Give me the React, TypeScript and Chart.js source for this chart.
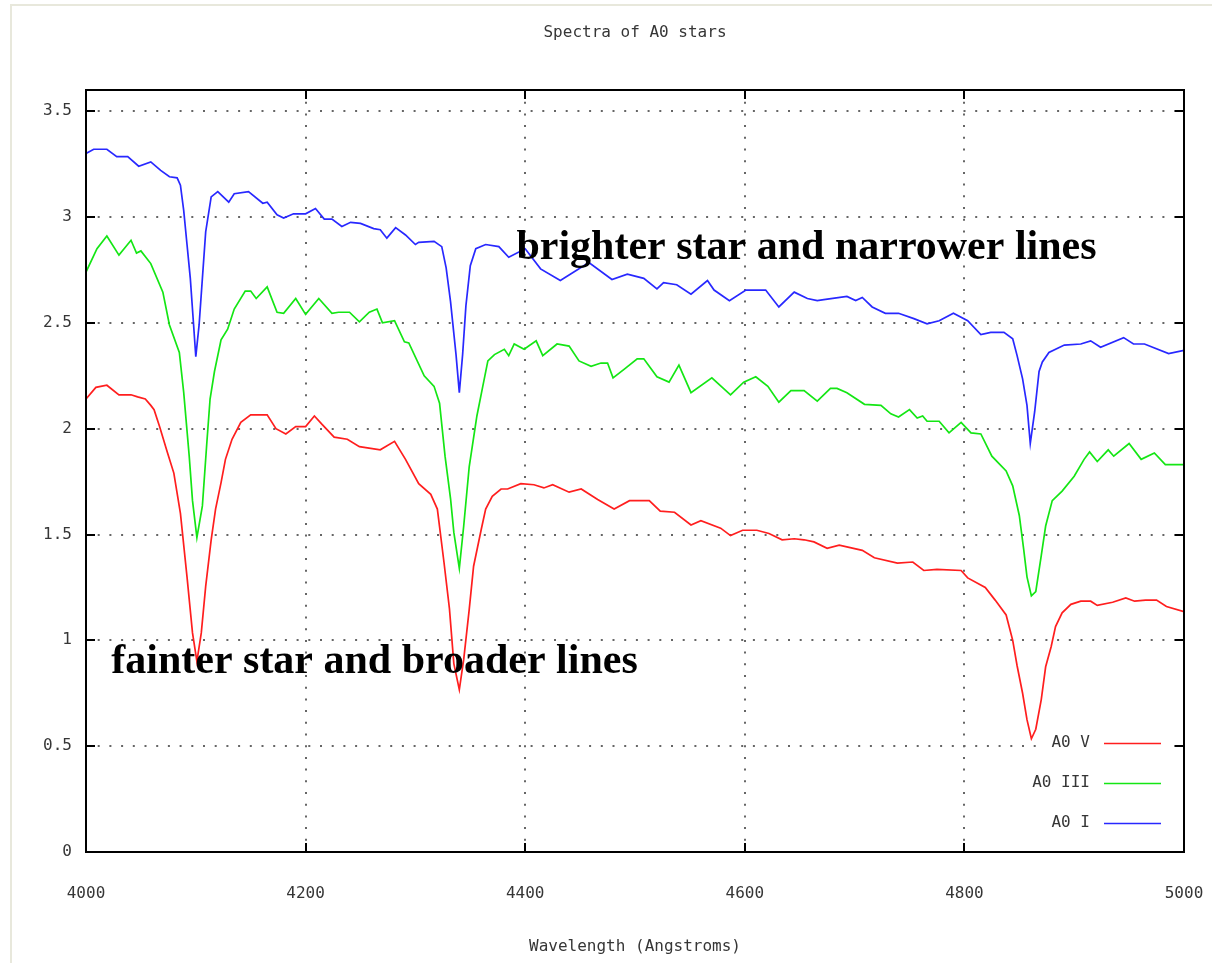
import React, { useEffect, useRef } from "react";
import { Chart, registerables } from "chart.js";

Chart.register(...registerables);

// ---------- data ----------
const chartTitle = "Spectra of A0 stars";
const xAxisTitle = "Wavelength (Angstroms)";
const xTickValues = [4000, 4200, 4400, 4600, 4800, 5000];
const yTickValues = [0, 0.5, 1, 1.5, 2, 2.5, 3, 3.5];
const seriesLabels = ["A0 V", "A0 III", "A0 I"];

// [wavelength (Angstrom), relative flux]
const a0V: [number, number][] = [
  [4000, 2.14], [4009, 2.195], [4019, 2.205], [4030, 2.16], [4041, 2.16], [4047, 2.15], [4054, 2.14],
  [4059, 2.11], [4062, 2.09], [4067, 2.01], [4074, 1.89], [4080, 1.79], [4086, 1.6], [4092, 1.3],
  [4097, 1.035], [4101, 0.9], [4105, 1.035], [4109, 1.255], [4114, 1.475], [4118, 1.62], [4123, 1.745],
  [4127, 1.855], [4133, 1.95], [4141, 2.03], [4150, 2.065], [4165, 2.065], [4173, 2.0], [4182, 1.975],
  [4191, 2.01], [4200, 2.01], [4208, 2.06], [4215, 2.02], [4226, 1.96], [4238, 1.95], [4249, 1.915],
  [4268, 1.9], [4281, 1.94], [4291, 1.855], [4303, 1.74], [4314, 1.69], [4320, 1.62], [4326, 1.37],
  [4331, 1.15], [4335, 0.89], [4340, 0.767], [4344, 0.91], [4349, 1.145], [4353, 1.35], [4360, 1.525],
  [4364, 1.62], [4370, 1.68], [4378, 1.715], [4384, 1.715], [4396, 1.74], [4408, 1.735], [4417, 1.72],
  [4425, 1.735], [4440, 1.7], [4451, 1.715], [4466, 1.665], [4481, 1.62], [4495, 1.66], [4513, 1.66],
  [4523, 1.61], [4536, 1.605], [4551, 1.545], [4560, 1.565], [4578, 1.53], [4587, 1.495], [4598, 1.52],
  [4611, 1.52], [4622, 1.505], [4634, 1.475], [4645, 1.48], [4654, 1.475], [4663, 1.465], [4675, 1.435],
  [4686, 1.45], [4707, 1.425], [4718, 1.39], [4739, 1.365], [4753, 1.37], [4763, 1.33], [4775, 1.335],
  [4797, 1.33], [4803, 1.295], [4819, 1.25], [4828, 1.19], [4838, 1.12], [4844, 1.0], [4848, 0.88],
  [4853, 0.75], [4857, 0.625], [4861, 0.535], [4865, 0.58], [4870, 0.72], [4874, 0.875], [4879, 0.97],
  [4883, 1.065], [4889, 1.13], [4897, 1.17], [4906, 1.185], [4915, 1.185], [4921, 1.165], [4935, 1.18],
  [4947, 1.2], [4955, 1.185], [4965, 1.19], [4975, 1.19], [4984, 1.16], [5000, 1.135],
];

const a0III: [number, number][] = [
  [4000, 2.74], [4010, 2.85], [4019, 2.91], [4030, 2.82], [4041, 2.89], [4046, 2.83], [4050, 2.84],
  [4059, 2.78], [4070, 2.645], [4076, 2.49], [4085, 2.36], [4089, 2.17], [4094, 1.87], [4097, 1.66],
  [4101, 1.485], [4106, 1.635], [4110, 1.93], [4113, 2.14], [4117, 2.27], [4123, 2.42], [4129, 2.47],
  [4135, 2.565], [4145, 2.65], [4150, 2.65], [4155, 2.615], [4165, 2.67], [4174, 2.55], [4180, 2.545],
  [4191, 2.615], [4200, 2.54], [4212, 2.615], [4224, 2.545], [4230, 2.55], [4240, 2.55], [4249, 2.505],
  [4258, 2.55], [4265, 2.565], [4270, 2.5], [4281, 2.51], [4290, 2.41], [4294, 2.405], [4308, 2.25],
  [4317, 2.2], [4322, 2.12], [4327, 1.87], [4332, 1.67], [4335, 1.51], [4340, 1.34], [4344, 1.54],
  [4349, 1.82], [4356, 2.06], [4361, 2.19], [4366, 2.32], [4372, 2.35], [4381, 2.375], [4385, 2.345],
  [4390, 2.4], [4399, 2.375], [4410, 2.415], [4416, 2.345], [4429, 2.4], [4440, 2.39], [4449, 2.32],
  [4460, 2.295], [4469, 2.31], [4475, 2.31], [4480, 2.24], [4490, 2.28], [4502, 2.33], [4508, 2.33],
  [4520, 2.245], [4531, 2.22], [4540, 2.3], [4551, 2.17], [4570, 2.24], [4587, 2.16], [4599, 2.22],
  [4610, 2.245], [4621, 2.2], [4631, 2.125], [4642, 2.18], [4654, 2.18], [4666, 2.13], [4678, 2.19],
  [4684, 2.19], [4693, 2.17], [4709, 2.115], [4724, 2.11], [4733, 2.07], [4740, 2.055], [4750, 2.09],
  [4757, 2.05], [4762, 2.06], [4766, 2.035], [4777, 2.035], [4786, 1.98], [4797, 2.03], [4806, 1.98],
  [4815, 1.975], [4825, 1.87], [4838, 1.8], [4844, 1.73], [4850, 1.59], [4854, 1.43], [4857, 1.3],
  [4861, 1.21], [4865, 1.23], [4870, 1.4], [4874, 1.54], [4880, 1.66], [4889, 1.705], [4900, 1.775],
  [4909, 1.855], [4914, 1.89], [4921, 1.845], [4931, 1.9], [4936, 1.87], [4950, 1.93], [4961, 1.855],
  [4973, 1.885], [4983, 1.83], [5000, 1.83],
];

const a0I: [number, number][] = [
  [4000, 3.3], [4007, 3.32], [4019, 3.32], [4028, 3.285], [4038, 3.285], [4048, 3.24], [4059, 3.26],
  [4068, 3.22], [4076, 3.19], [4083, 3.185], [4086, 3.15], [4089, 3.03], [4092, 2.87], [4095, 2.71],
  [4098, 2.49], [4100, 2.34], [4103, 2.49], [4106, 2.71], [4109, 2.93], [4114, 3.095], [4120, 3.12],
  [4130, 3.07], [4135, 3.11], [4148, 3.12], [4161, 3.065], [4165, 3.07], [4174, 3.01], [4180, 2.995],
  [4189, 3.015], [4200, 3.015], [4209, 3.04], [4217, 2.99], [4224, 2.99], [4233, 2.955], [4241, 2.975],
  [4250, 2.97], [4262, 2.945], [4268, 2.94], [4274, 2.9], [4282, 2.95], [4291, 2.915], [4300, 2.87],
  [4303, 2.88], [4317, 2.885], [4324, 2.86], [4328, 2.76], [4332, 2.6], [4337, 2.35], [4340, 2.17],
  [4343, 2.35], [4346, 2.58], [4350, 2.77], [4355, 2.85], [4364, 2.87], [4376, 2.86], [4385, 2.81],
  [4400, 2.85], [4414, 2.755], [4432, 2.7], [4458, 2.785], [4479, 2.705], [4493, 2.73], [4508, 2.71],
  [4520, 2.66], [4526, 2.69], [4538, 2.68], [4551, 2.635], [4566, 2.7], [4572, 2.655], [4586, 2.605],
  [4601, 2.655], [4619, 2.655], [4631, 2.575], [4645, 2.645], [4657, 2.615], [4666, 2.605], [4672, 2.61],
  [4693, 2.625], [4701, 2.605], [4707, 2.62], [4716, 2.575], [4728, 2.545], [4740, 2.545], [4754, 2.52],
  [4766, 2.495], [4777, 2.51], [4790, 2.545], [4803, 2.51], [4815, 2.445], [4824, 2.455], [4836, 2.455],
  [4844, 2.425], [4848, 2.345], [4853, 2.235], [4857, 2.11], [4860, 1.93], [4864, 2.08], [4868, 2.27],
  [4871, 2.315], [4877, 2.36], [4891, 2.395], [4906, 2.4], [4915, 2.415], [4924, 2.385], [4945, 2.43],
  [4954, 2.4], [4964, 2.4], [4986, 2.355], [5000, 2.37],
];

const annotationTexts = ["brighter star and narrower lines", "fainter star and broader lines"];
// anchor of each annotation in data coordinates (wavelength, flux) = left end of text baseline
const annotationAnchors: [number, number][] = [[4392, 2.8], [4023, 0.846]];

// ---------- styles ----------
const seriesColors = ["rgb(255,30,30)", "rgb(20,230,20)", "rgb(40,40,255)"];
const monoFont = '"DejaVu Sans Mono", "Liberation Mono", monospace';
const textColor = "#363636";

const gnuplotLook = {
  id: "gnuplotLook",
  beforeDraw(chart: any) {
    const { ctx, width, height } = chart;
    ctx.save();
    ctx.fillStyle = "#ffffff";
    ctx.fillRect(0, 0, width, height);
    ctx.strokeStyle = "#e8e8dc";
    ctx.lineWidth = 2;
    ctx.strokeRect(11, 5, width + 20, height + 20);
    ctx.restore();
  },
  beforeDatasetsDraw(chart: any) {
    const { ctx, chartArea: a, scales } = chart;
    const xs = scales.x;
    const ys = scales.y;
    ctx.save();
    ctx.strokeStyle = "#666666";
    ctx.lineWidth = 2;
    ctx.setLineDash([2, 9.7]);
    xs.ticks.forEach((t: any) => {
      const px = Math.round(xs.getPixelForValue(t.value));
      if (px <= a.left + 2 || px >= a.right - 2) return;
      ctx.beginPath();
      ctx.moveTo(px, a.top);
      ctx.lineTo(px, a.bottom);
      ctx.stroke();
    });
    ys.ticks.forEach((t: any) => {
      const py = Math.round(ys.getPixelForValue(t.value));
      if (py >= a.bottom - 2 || py <= a.top + 2) return;
      ctx.beginPath();
      ctx.moveTo(a.left, py);
      ctx.lineTo(a.right, py);
      ctx.stroke();
    });
    ctx.setLineDash([]);
    // key area is kept clear of grid dots
    ctx.fillStyle = "#ffffff";
    ctx.fillRect(a.right - 142, a.bottom - 124, 130, 110);
    ctx.restore();
  },
  afterDatasetsDraw(chart: any) {
    const { ctx, chartArea: a, scales } = chart;
    const xs = scales.x;
    const ys = scales.y;
    ctx.save();
    // frame
    ctx.strokeStyle = "#000000";
    ctx.lineWidth = 2;
    ctx.strokeRect(a.left, a.top, a.right - a.left, a.bottom - a.top);
    // inward ticks on all four sides
    const tl = 9;
    ctx.beginPath();
    xs.ticks.forEach((t: any) => {
      const px = Math.round(xs.getPixelForValue(t.value));
      ctx.moveTo(px, a.bottom);
      ctx.lineTo(px, a.bottom - tl);
      ctx.moveTo(px, a.top);
      ctx.lineTo(px, a.top + tl);
    });
    ys.ticks.forEach((t: any) => {
      const py = Math.round(ys.getPixelForValue(t.value));
      ctx.moveTo(a.left, py);
      ctx.lineTo(a.left + tl, py);
      ctx.moveTo(a.right, py);
      ctx.lineTo(a.right - tl, py);
    });
    ctx.stroke();

    // key
    ctx.font = `16px ${monoFont}`;
    ctx.fillStyle = textColor;
    ctx.textAlign = "right";
    ctx.textBaseline = "middle";
    chart.data.datasets.forEach((ds: any, i: number) => {
      const yy = a.bottom - 109 + i * 40;
      ctx.fillText(ds.label, a.right - 94, yy);
      ctx.strokeStyle = ds.borderColor;
      ctx.lineWidth = 1.7;
      ctx.beginPath();
      ctx.moveTo(a.right - 80, yy + 0.5);
      ctx.lineTo(a.right - 23, yy + 0.5);
      ctx.stroke();
    });

    // annotations
    ctx.font = 'bold 42px "Liberation Serif", "Times New Roman", serif';
    ctx.fillStyle = "#000000";
    ctx.textAlign = "left";
    ctx.textBaseline = "alphabetic";
    annotationTexts.forEach((txt, i) => {
      const [wx, wy] = annotationAnchors[i];
      ctx.fillText(txt, xs.getPixelForValue(wx), ys.getPixelForValue(wy));
    });
    ctx.restore();
  },
  afterDraw(chart: any) {
    const { ctx, chartArea: a } = chart;
    ctx.save();
    ctx.font = `16px ${monoFont}`;
    ctx.fillStyle = textColor;
    ctx.textAlign = "center";
    ctx.textBaseline = "middle";
    const cx = (a.left + a.right) / 2;
    ctx.fillText(chartTitle, cx, a.top - 57);
    ctx.fillText(xAxisTitle, cx, a.bottom + 95);
    ctx.restore();
  },
};

export default function App() {
  const canvasRef = useRef<HTMLCanvasElement | null>(null);

  useEffect(() => {
    if (!canvasRef.current) return;
    const series = [a0V, a0III, a0I];
    const chart = new Chart(canvasRef.current, {
      type: "line",
      data: {
        datasets: series.map((s, i) => ({
          label: seriesLabels[i],
          data: s.map(([w, f]) => ({ x: w, y: f })),
          borderColor: seriesColors[i],
          backgroundColor: seriesColors[i],
          borderWidth: 1.7,
          pointRadius: 0,
          tension: 0,
          fill: false,
        })),
      },
      options: {
        responsive: false,
        animation: false,
        events: [],
        layout: { padding: { left: 0, top: 90, right: 28, bottom: 0 } },
        plugins: {
          legend: { display: false },
          tooltip: { enabled: false },
          title: { display: false },
        },
        scales: {
          x: {
            type: "linear",
            min: 4000,
            max: 5000,
            afterBuildTicks: (scale: any) => {
              scale.ticks = xTickValues.map((v) => ({ value: v }));
            },
            afterFit: (scale: any) => {
              scale.height = 111;
              scale.paddingLeft = 0;
              scale.paddingRight = 0;
            },
            ticks: {
              padding: 32,
              color: textColor,
              font: { family: monoFont, size: 16 },
              maxRotation: 0,
              autoSkip: false,
              callback: (v: any) => String(v),
            },
            grid: { display: false, drawTicks: false },
            border: { display: false },
          },
          y: {
            type: "linear",
            min: 0,
            max: 3.6,
            afterBuildTicks: (scale: any) => {
              scale.ticks = yTickValues.map((v) => ({ value: v }));
            },
            afterFit: (scale: any) => {
              scale.width = 86;
              scale.paddingTop = 0;
              scale.paddingBottom = 0;
            },
            ticks: {
              padding: 14,
              color: textColor,
              font: { family: monoFont, size: 16 },
              autoSkip: false,
              callback: (v: any) => String(v),
            },
            grid: { display: false, drawTicks: false },
            border: { display: false },
          },
        },
      },
      plugins: [gnuplotLook],
    });
    return () => chart.destroy();
  }, []);

  return (
    <div style={{ position: "absolute", left: 0, top: 0, width: 1212, height: 963 }}>
      <canvas ref={canvasRef} width={1212} height={963} style={{ display: "block" }} />
    </div>
  );
}
